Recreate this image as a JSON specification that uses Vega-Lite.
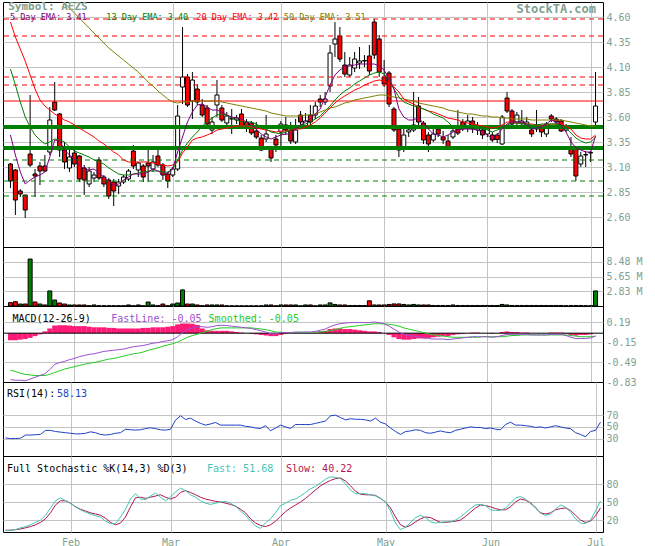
{
"$schema": "https://vega.github.io/schema/vega-lite/v6.json",
"padding": 0,
"background": "white",
"spacing": 0,
"bounds": "flush",
"config": {
 "view": {"stroke": "black", "strokeWidth": 1},
 "font": "DejaVu Sans Mono",
 "axis": {"labelFont": "DejaVu Sans Mono", "labelFontSize": 10, "labelColor": "#7fa08f", "gridColor": "#c4c4c4", "gridWidth": 1, "domain": false, "ticks": false, "labelOverlap": false, "minExtent": 0, "tickCount": 30}
},
"datasets": {
"lv": [
{"p":4.58,"k":"rd"},{"p":4.41,"k":"rd"},{"p":4.00,"k":"rd"},{"p":3.92,"k":"rd"},{"p":3.76,"k":"rs"},
{"p":3.50,"k":"g"},{"p":3.29,"k":"g"},{"p":3.17,"k":"gd"},{"p":2.96,"k":"gd"},{"p":2.81,"k":"gd"}
],
"d": [
{"i":0,"o":3.13,"h":3.14,"l":2.89,"c":2.96,"v":0.64,"u":0,"e5":3.42,"e13":4.08,"e20":4.55,"e50":5.30,"mf":-0.79,"ms":-0.63,"mh":-0.12,"r":31,"kf":2,"ks":3},
{"i":1,"o":3.07,"h":3.08,"l":2.62,"c":2.77,"v":0.83,"u":0,"e5":3.22,"e13":3.92,"e20":4.40,"e50":5.25,"mf":-0.80,"ms":-0.65,"mh":-0.12,"r":30,"kf":3,"ks":3},
{"i":2,"o":2.86,"h":2.88,"l":2.80,"c":2.83,"v":0.38,"u":1,"e5":3.05,"e13":3.75,"e20":4.28,"e50":5.20,"mf":-0.80,"ms":-0.68,"mh":-0.11,"r":30,"kf":4,"ks":4},
{"i":3,"o":2.82,"h":2.82,"l":2.59,"c":2.67,"v":0.38,"u":0,"e5":2.93,"e13":3.60,"e20":4.16,"e50":5.15,"mf":-0.81,"ms":-0.70,"mh":-0.10,"r":30.5,"kf":7,"ks":5},
{"i":4,"o":3.23,"h":3.82,"l":3.10,"c":3.12,"v":9.05,"u":1,"e5":2.97,"e13":3.50,"e20":4.02,"e50":5.10,"mf":-0.78,"ms":-0.71,"mh":-0.08,"r":36,"kf":9,"ks":7},
{"i":5,"o":3.03,"h":3.08,"l":2.80,"c":3.01,"v":0.77,"u":0,"e5":3.00,"e13":3.42,"e20":3.88,"e50":5.05,"mf":-0.75,"ms":-0.72,"mh":-0.05,"r":36,"kf":12,"ks":9},
{"i":6,"o":3.11,"h":3.15,"l":2.92,"c":3.06,"v":0.38,"u":1,"e5":3.02,"e13":3.37,"e20":3.77,"e50":5.00,"mf":-0.72,"ms":-0.72,"mh":-0.02,"r":36.5,"kf":16,"ks":12},
{"i":7,"o":3.11,"h":3.22,"l":3.05,"c":3.06,"v":0.2,"u":0,"e5":3.05,"e13":3.33,"e20":3.71,"e50":4.94,"mf":-0.69,"ms":-0.72,"mh":0.03,"r":37,"kf":20,"ks":16},
{"i":8,"o":3.25,"h":3.70,"l":3.22,"c":3.57,"v":2.9,"u":1,"e5":3.20,"e13":3.35,"e20":3.67,"e50":4.89,"mf":-0.62,"ms":-0.70,"mh":0.08,"r":44,"kf":28,"ks":22},
{"i":9,"o":3.75,"h":3.95,"l":3.66,"c":3.67,"v":1.15,"u":1,"e5":3.37,"e13":3.38,"e20":3.63,"e50":4.84,"mf":-0.53,"ms":-0.67,"mh":0.13,"r":44,"kf":40,"ks":32},
{"i":10,"o":3.63,"h":3.64,"l":3.20,"c":3.27,"v":0.58,"u":0,"e5":3.36,"e13":3.37,"e20":3.60,"e50":4.79,"mf":-0.50,"ms":-0.64,"mh":0.135,"r":42,"kf":52,"ks":45},
{"i":11,"o":3.27,"h":3.35,"l":3.08,"c":3.15,"v":0.38,"u":0,"e5":3.27,"e13":3.35,"e20":3.57,"e50":4.74,"mf":-0.48,"ms":-0.61,"mh":0.135,"r":41,"kf":57,"ks":52},
{"i":12,"o":3.09,"h":3.30,"l":3.05,"c":3.20,"v":0.2,"u":1,"e5":3.22,"e13":3.30,"e20":3.55,"e50":4.69,"mf":-0.45,"ms":-0.59,"mh":0.13,"r":40,"kf":52,"ks":52},
{"i":13,"o":3.24,"h":3.30,"l":3.10,"c":3.13,"v":0.2,"u":0,"e5":3.18,"e13":3.26,"e20":3.52,"e50":4.64,"mf":-0.43,"ms":-0.57,"mh":0.12,"r":39,"kf":48,"ks":48},
{"i":14,"o":3.21,"h":3.22,"l":2.95,"c":2.98,"v":0.2,"u":0,"e5":3.12,"e13":3.24,"e20":3.49,"e50":4.59,"mf":-0.40,"ms":-0.55,"mh":0.12,"r":38,"kf":42,"ks":42},
{"i":15,"o":3.09,"h":3.12,"l":2.82,"c":2.97,"v":0.2,"u":0,"e5":3.08,"e13":3.22,"e20":3.46,"e50":4.54,"mf":-0.38,"ms":-0.53,"mh":0.12,"r":38,"kf":37,"ks":38},
{"i":16,"o":2.93,"h":3.10,"l":2.90,"c":3.06,"v":0.05,"u":1,"e5":3.07,"e13":3.20,"e20":3.43,"e50":4.49,"mf":-0.36,"ms":-0.51,"mh":0.11,"r":39,"kf":33,"ks":35},
{"i":17,"o":2.99,"h":3.05,"l":2.95,"c":3.02,"v":0.2,"u":1,"e5":3.08,"e13":3.17,"e20":3.40,"e50":4.44,"mf":-0.35,"ms":-0.50,"mh":0.10,"r":41.5,"kf":30,"ks":32},
{"i":18,"o":3.17,"h":3.20,"l":2.97,"c":2.99,"v":0.05,"u":0,"e5":3.04,"e13":3.15,"e20":3.36,"e50":4.39,"mf":-0.33,"ms":-0.48,"mh":0.10,"r":40,"kf":27,"ks":30},
{"i":19,"o":3.00,"h":3.02,"l":2.90,"c":2.93,"v":0.05,"u":0,"e5":3.00,"e13":3.13,"e20":3.33,"e50":4.34,"mf":-0.31,"ms":-0.46,"mh":0.10,"r":37,"kf":25,"ks":28},
{"i":20,"o":2.97,"h":2.99,"l":2.78,"c":2.81,"v":0.05,"u":0,"e5":2.95,"e13":3.09,"e20":3.29,"e50":4.29,"mf":-0.30,"ms":-0.44,"mh":0.09,"r":36,"kf":18,"ks":23},
{"i":21,"o":2.95,"h":2.98,"l":2.71,"c":2.86,"v":0.05,"u":1,"e5":2.92,"e13":3.06,"e20":3.25,"e50":4.25,"mf":-0.29,"ms":-0.43,"mh":0.09,"r":37,"kf":14,"ks":16},
{"i":22,"o":2.91,"h":2.98,"l":2.83,"c":2.95,"v":0.05,"u":1,"e5":2.93,"e13":3.03,"e20":3.22,"e50":4.21,"mf":-0.28,"ms":-0.41,"mh":0.08,"r":39,"kf":14,"ks":12},
{"i":23,"o":2.95,"h":3.02,"l":2.93,"c":3.00,"v":0.05,"u":1,"e5":2.97,"e13":3.02,"e20":3.17,"e50":4.17,"mf":-0.27,"ms":-0.39,"mh":0.08,"r":40,"kf":25,"ks":15},
{"i":24,"o":2.98,"h":3.08,"l":2.96,"c":3.06,"v":0.2,"u":1,"e5":3.00,"e13":3.02,"e20":3.15,"e50":4.13,"mf":-0.25,"ms":-0.37,"mh":0.08,"r":46,"kf":38,"ks":25},
{"i":25,"o":3.26,"h":3.32,"l":3.08,"c":3.11,"v":0.05,"u":1,"e5":3.03,"e13":3.03,"e20":3.15,"e50":4.09,"mf":-0.23,"ms":-0.35,"mh":0.08,"r":45,"kf":55,"ks":42},
{"i":26,"o":3.07,"h":3.15,"l":3.00,"c":3.14,"v":0.2,"u":1,"e5":3.03,"e13":3.04,"e20":3.15,"e50":4.05,"mf":-0.22,"ms":-0.34,"mh":0.08,"r":44.5,"kf":64,"ks":57},
{"i":27,"o":3.11,"h":3.13,"l":2.95,"c":3.00,"v":0.05,"u":0,"e5":3.03,"e13":3.05,"e20":3.15,"e50":4.00,"mf":-0.21,"ms":-0.32,"mh":0.09,"r":45,"kf":55,"ks":58},
{"i":28,"o":3.14,"h":3.27,"l":2.95,"c":3.11,"v":0.77,"u":1,"e5":3.05,"e13":3.06,"e20":3.15,"e50":3.95,"mf":-0.19,"ms":-0.29,"mh":0.09,"r":47,"kf":54,"ks":56},
{"i":29,"o":3.08,"h":3.22,"l":3.05,"c":3.15,"v":0.2,"u":1,"e5":3.08,"e13":3.06,"e20":3.14,"e50":3.91,"mf":-0.17,"ms":-0.27,"mh":0.10,"r":48.4,"kf":60,"ks":58},
{"i":30,"o":3.21,"h":3.27,"l":3.10,"c":3.12,"v":0.05,"u":0,"e5":3.06,"e13":3.06,"e20":3.13,"e50":3.86,"mf":-0.16,"ms":-0.25,"mh":0.10,"r":47,"kf":65,"ks":60},
{"i":31,"o":3.12,"h":3.14,"l":2.97,"c":3.02,"v":0.38,"u":0,"e5":3.03,"e13":3.05,"e20":3.12,"e50":3.82,"mf":-0.14,"ms":-0.22,"mh":0.10,"r":45,"kf":58,"ks":62},
{"i":32,"o":3.03,"h":3.05,"l":2.89,"c":2.96,"v":0.05,"u":0,"e5":3.04,"e13":3.05,"e20":3.11,"e50":3.78,"mf":-0.13,"ms":-0.20,"mh":0.11,"r":44.4,"kf":52,"ks":58},
{"i":33,"o":3.02,"h":3.10,"l":3.00,"c":3.08,"v":0.38,"u":1,"e5":3.08,"e13":3.08,"e20":3.12,"e50":3.75,"mf":-0.11,"ms":-0.18,"mh":0.12,"r":46,"kf":58,"ks":55},
{"i":34,"o":3.08,"h":3.72,"l":3.06,"c":3.61,"v":0.58,"u":1,"e5":3.25,"e13":3.17,"e20":3.15,"e50":3.74,"mf":-0.06,"ms":-0.15,"mh":0.15,"r":61.5,"kf":67,"ks":58},
{"i":35,"o":3.90,"h":4.50,"l":3.73,"c":4.00,"v":3.1,"u":1,"e5":3.40,"e13":3.27,"e20":3.24,"e50":3.75,"mf":0.01,"ms":-0.11,"mh":0.165,"r":69,"kf":73,"ks":66},
{"i":36,"o":4.00,"h":4.03,"l":3.70,"c":3.72,"v":0.38,"u":0,"e5":3.55,"e13":3.34,"e20":3.30,"e50":3.75,"mf":0.06,"ms":-0.07,"mh":0.165,"r":62.6,"kf":69,"ks":69},
{"i":37,"o":3.76,"h":4.05,"l":3.58,"c":3.97,"v":0.38,"u":1,"e5":3.65,"e13":3.40,"e20":3.37,"e50":3.76,"mf":0.09,"ms":-0.04,"mh":0.16,"r":65,"kf":62,"ks":66},
{"i":38,"o":3.88,"h":3.93,"l":3.72,"c":3.75,"v":0.2,"u":0,"e5":3.72,"e13":3.45,"e20":3.39,"e50":3.76,"mf":0.11,"ms":-0.02,"mh":0.14,"r":60,"kf":58,"ks":62},
{"i":39,"o":3.72,"h":3.78,"l":3.60,"c":3.62,"v":0.05,"u":0,"e5":3.73,"e13":3.51,"e20":3.40,"e50":3.76,"mf":0.11,"ms":0.01,"mh":0.08,"r":56,"kf":52,"ks":58},
{"i":40,"o":3.69,"h":3.72,"l":3.50,"c":3.53,"v":0.2,"u":0,"e5":3.70,"e13":3.55,"e20":3.42,"e50":3.76,"mf":0.10,"ms":0.03,"mh":0.05,"r":53,"kf":48,"ks":55},
{"i":41,"o":3.47,"h":3.60,"l":3.43,"c":3.55,"v":0.2,"u":1,"e5":3.67,"e13":3.59,"e20":3.44,"e50":3.76,"mf":0.11,"ms":0.06,"mh":0.04,"r":55,"kf":46,"ks":53},
{"i":42,"o":3.72,"h":3.97,"l":3.60,"c":3.82,"v":0.2,"u":1,"e5":3.67,"e13":3.62,"e20":3.47,"e50":3.76,"mf":0.13,"ms":0.08,"mh":0.04,"r":57.5,"kf":48,"ks":51},
{"i":43,"o":3.69,"h":3.72,"l":3.55,"c":3.57,"v":0.2,"u":0,"e5":3.65,"e13":3.63,"e20":3.48,"e50":3.75,"mf":0.135,"ms":0.09,"mh":0.04,"r":53,"kf":50,"ks":50},
{"i":44,"o":3.54,"h":3.65,"l":3.50,"c":3.61,"v":0.03,"u":1,"e5":3.62,"e13":3.62,"e20":3.49,"e50":3.74,"mf":0.13,"ms":0.09,"mh":0.04,"r":53,"kf":51,"ks":48},
{"i":45,"o":3.58,"h":3.68,"l":3.43,"c":3.585,"v":0.03,"u":0,"e5":3.60,"e13":3.59,"e20":3.50,"e50":3.73,"mf":0.12,"ms":0.09,"mh":0.03,"r":53,"kf":48,"ks":46},
{"i":46,"o":3.57,"h":3.62,"l":3.53,"c":3.59,"v":0.03,"u":1,"e5":3.59,"e13":3.57,"e20":3.51,"e50":3.72,"mf":0.11,"ms":0.09,"mh":0.02,"r":53,"kf":43,"ks":43},
{"i":47,"o":3.63,"h":3.68,"l":3.49,"c":3.51,"v":0.03,"u":0,"e5":3.58,"e13":3.55,"e20":3.51,"e50":3.71,"mf":0.10,"ms":0.09,"mh":0.01,"r":53,"kf":35,"ks":38},
{"i":48,"o":3.55,"h":3.58,"l":3.45,"c":3.50,"v":0.03,"u":0,"e5":3.55,"e13":3.55,"e20":3.51,"e50":3.70,"mf":0.09,"ms":0.09,"mh":0.0,"r":51,"kf":28,"ks":32},
{"i":49,"o":3.54,"h":3.56,"l":3.42,"c":3.44,"v":0.03,"u":0,"e5":3.53,"e13":3.55,"e20":3.50,"e50":3.69,"mf":0.08,"ms":0.09,"mh":-0.01,"r":50,"kf":18,"ks":22},
{"i":50,"o":3.46,"h":3.55,"l":3.38,"c":3.40,"v":0.03,"u":0,"e5":3.48,"e13":3.53,"e20":3.49,"e50":3.68,"mf":0.06,"ms":0.08,"mh":-0.02,"r":48,"kf":10,"ks":15},
{"i":51,"o":3.39,"h":3.42,"l":3.26,"c":3.27,"v":0.03,"u":0,"e5":3.43,"e13":3.50,"e20":3.48,"e50":3.67,"mf":0.04,"ms":0.07,"mh":-0.03,"r":47.3,"kf":6,"ks":11},
{"i":52,"o":3.38,"h":3.62,"l":3.35,"c":3.43,"v":0.2,"u":1,"e5":3.40,"e13":3.48,"e20":3.47,"e50":3.66,"mf":0.02,"ms":0.06,"mh":-0.04,"r":52,"kf":15,"ks":9},
{"i":53,"o":3.28,"h":3.30,"l":3.15,"c":3.19,"v":0.2,"u":0,"e5":3.38,"e13":3.45,"e20":3.46,"e50":3.64,"mf":-0.01,"ms":0.04,"mh":-0.05,"r":43.3,"kf":22,"ks":12},
{"i":54,"o":3.38,"h":3.42,"l":3.25,"c":3.32,"v":0.03,"u":1,"e5":3.40,"e13":3.44,"e20":3.45,"e50":3.63,"mf":-0.01,"ms":0.02,"mh":-0.05,"r":48,"kf":32,"ks":18},
{"i":55,"o":3.45,"h":3.56,"l":3.30,"c":3.53,"v":0.2,"u":1,"e5":3.42,"e13":3.43,"e20":3.46,"e50":3.62,"mf":0.01,"ms":0.015,"mh":-0.03,"r":53,"kf":44,"ks":26},
{"i":56,"o":3.52,"h":3.60,"l":3.42,"c":3.47,"v":0.2,"u":0,"e5":3.43,"e13":3.45,"e20":3.46,"e50":3.61,"mf":0.01,"ms":0.01,"mh":-0.01,"r":50,"kf":48,"ks":34},
{"i":57,"o":3.47,"h":3.55,"l":3.33,"c":3.36,"v":0.2,"u":0,"e5":3.43,"e13":3.47,"e20":3.47,"e50":3.61,"mf":0.01,"ms":0.01,"mh":0.0,"r":47.3,"kf":53,"ks":40},
{"i":58,"o":3.35,"h":3.58,"l":3.33,"c":3.47,"v":0.2,"u":1,"e5":3.48,"e13":3.50,"e20":3.48,"e50":3.61,"mf":0.02,"ms":0.01,"mh":0.01,"r":54,"kf":55,"ks":45},
{"i":59,"o":3.62,"h":3.66,"l":3.48,"c":3.55,"v":0.03,"u":1,"e5":3.52,"e13":3.52,"e20":3.48,"e50":3.61,"mf":0.02,"ms":0.01,"mh":0.01,"r":54,"kf":60,"ks":50},
{"i":60,"o":3.50,"h":3.64,"l":3.48,"c":3.56,"v":0.2,"u":1,"e5":3.55,"e13":3.53,"e20":3.50,"e50":3.62,"mf":0.02,"ms":0.015,"mh":0.005,"r":54,"kf":66,"ks":56},
{"i":61,"o":3.62,"h":3.72,"l":3.50,"c":3.55,"v":0.2,"u":0,"e5":3.58,"e13":3.55,"e20":3.52,"e50":3.62,"mf":0.02,"ms":0.015,"mh":0.005,"r":54,"kf":72,"ks":63},
{"i":62,"o":3.62,"h":3.75,"l":3.58,"c":3.71,"v":0.03,"u":1,"e5":3.63,"e13":3.58,"e20":3.55,"e50":3.63,"mf":0.03,"ms":0.02,"mh":0.01,"r":56,"kf":76,"ks":70},
{"i":63,"o":3.78,"h":3.82,"l":3.70,"c":3.75,"v":0.2,"u":1,"e5":3.68,"e13":3.61,"e20":3.59,"e50":3.65,"mf":0.05,"ms":0.02,"mh":0.03,"r":58,"kf":82,"ks":77},
{"i":64,"o":3.75,"h":3.85,"l":3.72,"c":3.78,"v":0.2,"u":1,"e5":3.80,"e13":3.66,"e20":3.64,"e50":3.67,"mf":0.07,"ms":0.03,"mh":0.04,"r":60,"kf":88,"ks":82},
{"i":65,"o":3.91,"h":4.32,"l":3.85,"c":4.24,"v":0.6,"u":1,"e5":3.92,"e13":3.71,"e20":3.69,"e50":3.69,"mf":0.11,"ms":0.04,"mh":0.07,"r":69,"kf":92,"ks":86},
{"i":66,"o":4.33,"h":4.55,"l":4.20,"c":4.38,"v":0.3,"u":1,"e5":4.02,"e13":3.77,"e20":3.74,"e50":3.70,"mf":0.14,"ms":0.06,"mh":0.08,"r":70,"kf":91,"ks":89},
{"i":67,"o":4.41,"h":4.50,"l":4.15,"c":4.18,"v":0.2,"u":0,"e5":4.07,"e13":3.82,"e20":3.78,"e50":3.72,"mf":0.16,"ms":0.08,"mh":0.08,"r":66,"kf":89,"ks":90},
{"i":68,"o":4.12,"h":4.25,"l":4.00,"c":4.03,"v":0.2,"u":0,"e5":4.10,"e13":3.86,"e20":3.81,"e50":3.74,"mf":0.17,"ms":0.10,"mh":0.07,"r":62,"kf":80,"ks":85},
{"i":69,"o":4.02,"h":4.20,"l":4.00,"c":4.12,"v":0.1,"u":1,"e5":4.11,"e13":3.89,"e20":3.84,"e50":3.75,"mf":0.18,"ms":0.11,"mh":0.07,"r":64,"kf":70,"ks":77},
{"i":70,"o":4.09,"h":4.25,"l":4.05,"c":4.18,"v":0.1,"u":1,"e5":4.12,"e13":3.93,"e20":3.87,"e50":3.77,"mf":0.18,"ms":0.12,"mh":0.06,"r":63,"kf":64,"ks":68},
{"i":71,"o":4.14,"h":4.30,"l":4.08,"c":4.16,"v":0.1,"u":0,"e5":4.13,"e13":3.96,"e20":3.89,"e50":3.78,"mf":0.18,"ms":0.13,"mh":0.05,"r":63,"kf":64,"ks":63},
{"i":72,"o":4.16,"h":4.22,"l":4.10,"c":4.165,"v":0.1,"u":1,"e5":4.13,"e13":3.99,"e20":3.92,"e50":3.79,"mf":0.18,"ms":0.14,"mh":0.04,"r":62,"kf":64,"ks":62},
{"i":73,"o":4.21,"h":4.32,"l":4.02,"c":4.06,"v":1.0,"u":0,"e5":4.13,"e13":4.02,"e20":3.94,"e50":3.80,"mf":0.18,"ms":0.15,"mh":0.03,"r":60,"kf":62,"ks":62},
{"i":74,"o":4.55,"h":4.58,"l":4.18,"c":4.22,"v":0.2,"u":1,"e5":4.13,"e13":4.04,"e20":3.96,"e50":3.81,"mf":0.19,"ms":0.16,"mh":0.03,"r":65,"kf":60,"ks":61},
{"i":75,"o":4.38,"h":4.42,"l":4.00,"c":4.05,"v":0.2,"u":0,"e5":4.11,"e13":4.05,"e20":3.97,"e50":3.82,"mf":0.18,"ms":0.16,"mh":0.02,"r":58,"kf":56,"ks":56},
{"i":76,"o":4.00,"h":4.17,"l":3.90,"c":3.93,"v":0.2,"u":0,"e5":4.07,"e13":4.03,"e20":3.96,"e50":3.82,"mf":0.16,"ms":0.16,"mh":0.0,"r":55,"kf":50,"ks":50},
{"i":77,"o":4.04,"h":4.06,"l":3.70,"c":3.73,"v":0.3,"u":0,"e5":3.98,"e13":3.98,"e20":3.93,"e50":3.81,"mf":0.12,"ms":0.15,"mh":-0.03,"r":48,"kf":35,"ks":40},
{"i":78,"o":3.68,"h":3.70,"l":3.45,"c":3.47,"v":0.4,"u":0,"e5":3.88,"e13":3.88,"e20":3.90,"e50":3.80,"mf":0.07,"ms":0.14,"mh":-0.07,"r":42,"kf":15,"ks":25},
{"i":79,"o":3.48,"h":3.50,"l":3.20,"c":3.27,"v":0.4,"u":0,"e5":3.68,"e13":3.80,"e20":3.85,"e50":3.79,"mf":0.02,"ms":0.12,"mh":-0.10,"r":37,"kf":4,"ks":12},
{"i":80,"o":3.30,"h":3.48,"l":3.25,"c":3.42,"v":0.3,"u":1,"e5":3.60,"e13":3.75,"e20":3.78,"e50":3.78,"mf":-0.02,"ms":0.09,"mh":-0.11,"r":42,"kf":8,"ks":8},
{"i":81,"o":3.45,"h":3.50,"l":3.40,"c":3.47,"v":0.2,"u":1,"e5":3.57,"e13":3.73,"e20":3.75,"e50":3.77,"mf":-0.04,"ms":0.07,"mh":-0.11,"r":43,"kf":16,"ks":11},
{"i":82,"o":3.47,"h":3.85,"l":3.45,"c":3.52,"v":0.3,"u":1,"e5":3.57,"e13":3.71,"e20":3.73,"e50":3.76,"mf":-0.05,"ms":0.05,"mh":-0.10,"r":45,"kf":24,"ks":17},
{"i":83,"o":3.71,"h":3.80,"l":3.52,"c":3.55,"v":0.2,"u":1,"e5":3.60,"e13":3.70,"e20":3.70,"e50":3.74,"mf":-0.06,"ms":0.03,"mh":-0.09,"r":44,"kf":28,"ks":22},
{"i":84,"o":3.54,"h":3.56,"l":3.33,"c":3.37,"v":0.2,"u":0,"e5":3.53,"e13":3.68,"e20":3.68,"e50":3.73,"mf":-0.08,"ms":0.01,"mh":-0.09,"r":40,"kf":24,"ks":25},
{"i":85,"o":3.42,"h":3.45,"l":3.25,"c":3.33,"v":0.2,"u":0,"e5":3.48,"e13":3.66,"e20":3.66,"e50":3.72,"mf":-0.09,"ms":-0.01,"mh":-0.08,"r":39,"kf":17,"ks":24},
{"i":86,"o":3.37,"h":3.48,"l":3.35,"c":3.43,"v":0.1,"u":1,"e5":3.43,"e13":3.63,"e20":3.65,"e50":3.71,"mf":-0.10,"ms":-0.03,"mh":-0.07,"r":41,"kf":15,"ks":20},
{"i":87,"o":3.48,"h":3.52,"l":3.40,"c":3.43,"v":0.1,"u":0,"e5":3.42,"e13":3.61,"e20":3.63,"e50":3.70,"mf":-0.10,"ms":-0.04,"mh":-0.06,"r":43,"kf":16,"ks":16},
{"i":88,"o":3.40,"h":3.46,"l":3.33,"c":3.37,"v":0.1,"u":0,"e5":3.40,"e13":3.59,"e20":3.61,"e50":3.69,"mf":-0.10,"ms":-0.05,"mh":-0.05,"r":41,"kf":17,"ks":16},
{"i":89,"o":3.36,"h":3.42,"l":3.28,"c":3.30,"v":0.1,"u":0,"e5":3.42,"e13":3.55,"e20":3.59,"e50":3.67,"mf":-0.11,"ms":-0.06,"mh":-0.05,"r":40,"kf":17,"ks":17},
{"i":90,"o":3.40,"h":3.48,"l":3.38,"c":3.46,"v":0.2,"u":1,"e5":3.45,"e13":3.50,"e20":3.58,"e50":3.66,"mf":-0.10,"ms":-0.07,"mh":-0.03,"r":44,"kf":20,"ks":18},
{"i":91,"o":3.48,"h":3.67,"l":3.42,"c":3.44,"v":0.1,"u":0,"e5":3.47,"e13":3.49,"e20":3.57,"e50":3.65,"mf":-0.09,"ms":-0.07,"mh":-0.02,"r":46,"kf":25,"ks":20},
{"i":92,"o":3.55,"h":3.58,"l":3.46,"c":3.49,"v":0.1,"u":1,"e5":3.48,"e13":3.48,"e20":3.55,"e50":3.64,"mf":-0.08,"ms":-0.07,"mh":-0.01,"r":48,"kf":32,"ks":26},
{"i":93,"o":3.49,"h":3.62,"l":3.45,"c":3.56,"v":0.1,"u":1,"e5":3.48,"e13":3.49,"e20":3.54,"e50":3.63,"mf":-0.07,"ms":-0.07,"mh":0.0,"r":50,"kf":39,"ks":33},
{"i":94,"o":3.56,"h":3.60,"l":3.44,"c":3.48,"v":0.1,"u":0,"e5":3.48,"e13":3.50,"e20":3.53,"e50":3.63,"mf":-0.06,"ms":-0.07,"mh":0.01,"r":49,"kf":45,"ks":40},
{"i":95,"o":3.47,"h":3.55,"l":3.42,"c":3.49,"v":0.1,"u":1,"e5":3.47,"e13":3.49,"e20":3.52,"e50":3.62,"mf":-0.06,"ms":-0.07,"mh":0.01,"r":49,"kf":46,"ks":45},
{"i":96,"o":3.47,"h":3.50,"l":3.38,"c":3.42,"v":0.1,"u":0,"e5":3.45,"e13":3.48,"e20":3.51,"e50":3.61,"mf":-0.06,"ms":-0.06,"mh":0.0,"r":47,"kf":44,"ks":44},
{"i":97,"o":3.43,"h":3.52,"l":3.40,"c":3.48,"v":0.1,"u":1,"e5":3.42,"e13":3.47,"e20":3.50,"e50":3.61,"mf":-0.06,"ms":-0.06,"mh":0.0,"r":48,"kf":37,"ks":42},
{"i":98,"o":3.42,"h":3.45,"l":3.35,"c":3.37,"v":0.1,"u":0,"e5":3.38,"e13":3.45,"e20":3.49,"e50":3.60,"mf":-0.07,"ms":-0.06,"mh":-0.01,"r":46,"kf":36,"ks":39},
{"i":99,"o":3.42,"h":3.44,"l":3.34,"c":3.375,"v":0.1,"u":0,"e5":3.42,"e13":3.47,"e20":3.50,"e50":3.60,"mf":-0.06,"ms":-0.06,"mh":0.0,"r":45,"kf":36,"ks":37},
{"i":100,"o":3.33,"h":3.62,"l":3.32,"c":3.60,"v":0.3,"u":1,"e5":3.48,"e13":3.49,"e20":3.52,"e50":3.59,"mf":-0.04,"ms":-0.06,"mh":0.02,"r":54,"kf":40,"ks":37},
{"i":101,"o":3.79,"h":3.85,"l":3.64,"c":3.66,"v":0.2,"u":1,"e5":3.53,"e13":3.52,"e20":3.55,"e50":3.59,"mf":-0.02,"ms":-0.05,"mh":0.03,"r":58,"kf":48,"ks":42},
{"i":102,"o":3.66,"h":3.68,"l":3.50,"c":3.53,"v":0.1,"u":0,"e5":3.55,"e13":3.54,"e20":3.55,"e50":3.58,"mf":-0.02,"ms":-0.04,"mh":0.02,"r":53,"kf":57,"ks":50},
{"i":103,"o":3.55,"h":3.65,"l":3.52,"c":3.62,"v":0.1,"u":1,"e5":3.55,"e13":3.54,"e20":3.54,"e50":3.58,"mf":-0.02,"ms":-0.04,"mh":0.02,"r":53,"kf":59,"ks":55},
{"i":104,"o":3.54,"h":3.67,"l":3.50,"c":3.56,"v":0.1,"u":0,"e5":3.55,"e13":3.53,"e20":3.54,"e50":3.58,"mf":-0.02,"ms":-0.03,"mh":0.01,"r":52,"kf":55,"ks":53},
{"i":105,"o":3.52,"h":3.60,"l":3.48,"c":3.55,"v":0.1,"u":0,"e5":3.53,"e13":3.53,"e20":3.53,"e50":3.58,"mf":-0.02,"ms":-0.03,"mh":0.01,"r":51,"kf":47,"ks":49},
{"i":106,"o":3.47,"h":3.52,"l":3.40,"c":3.43,"v":0.1,"u":0,"e5":3.48,"e13":3.52,"e20":3.53,"e50":3.57,"mf":-0.03,"ms":-0.03,"mh":0.0,"r":49,"kf":42,"ks":40},
{"i":107,"o":3.48,"h":3.67,"l":3.45,"c":3.50,"v":0.1,"u":1,"e5":3.49,"e13":3.52,"e20":3.52,"e50":3.57,"mf":-0.03,"ms":-0.03,"mh":0.0,"r":50,"kf":31,"ks":32},
{"i":108,"o":3.49,"h":3.52,"l":3.40,"c":3.45,"v":0.1,"u":0,"e5":3.50,"e13":3.53,"e20":3.52,"e50":3.57,"mf":-0.03,"ms":-0.03,"mh":0.0,"r":48,"kf":28,"ks":30},
{"i":109,"o":3.43,"h":3.55,"l":3.40,"c":3.53,"v":0.1,"u":1,"e5":3.53,"e13":3.53,"e20":3.52,"e50":3.57,"mf":-0.03,"ms":-0.03,"mh":0.0,"r":50,"kf":30,"ks":32},
{"i":110,"o":3.61,"h":3.63,"l":3.55,"c":3.58,"v":0.1,"u":1,"e5":3.57,"e13":3.53,"e20":3.53,"e50":3.57,"mf":-0.02,"ms":-0.03,"mh":0.01,"r":52,"kf":38,"ks":37},
{"i":111,"o":3.58,"h":3.60,"l":3.50,"c":3.55,"v":0.1,"u":0,"e5":3.55,"e13":3.53,"e20":3.53,"e50":3.57,"mf":-0.02,"ms":-0.03,"mh":0.01,"r":50,"kf":45,"ks":39},
{"i":112,"o":3.56,"h":3.58,"l":3.45,"c":3.46,"v":0.1,"u":0,"e5":3.52,"e13":3.52,"e20":3.53,"e50":3.57,"mf":-0.02,"ms":-0.03,"mh":0.01,"r":48,"kf":42,"ks":40},
{"i":113,"o":3.47,"h":3.53,"l":3.45,"c":3.50,"v":0.05,"u":1,"e5":3.45,"e13":3.49,"e20":3.51,"e50":3.56,"mf":-0.04,"ms":-0.03,"mh":-0.01,"r":47,"kf":33,"ks":36},
{"i":114,"o":3.29,"h":3.40,"l":3.20,"c":3.23,"v":0.1,"u":0,"e5":3.35,"e13":3.44,"e20":3.48,"e50":3.55,"mf":-0.07,"ms":-0.04,"mh":-0.03,"r":40,"kf":22,"ks":28},
{"i":115,"o":3.28,"h":3.30,"l":2.96,"c":3.01,"v":0.1,"u":0,"e5":3.29,"e13":3.39,"e20":3.42,"e50":3.54,"mf":-0.09,"ms":-0.05,"mh":-0.04,"r":37,"kf":15,"ks":20},
{"i":116,"o":3.13,"h":3.25,"l":3.10,"c":3.21,"v":0.1,"u":1,"e5":3.27,"e13":3.36,"e20":3.39,"e50":3.53,"mf":-0.09,"ms":-0.06,"mh":-0.03,"r":33,"kf":14,"ks":16},
{"i":117,"o":3.22,"h":3.26,"l":3.10,"c":3.225,"v":0.05,"u":1,"e5":3.25,"e13":3.34,"e20":3.38,"e50":3.52,"mf":-0.09,"ms":-0.06,"mh":-0.03,"r":42,"kf":20,"ks":18},
{"i":118,"o":3.24,"h":3.26,"l":3.15,"c":3.245,"v":0.05,"u":1,"e5":3.25,"e13":3.35,"e20":3.38,"e50":3.51,"mf":-0.08,"ms":-0.06,"mh":-0.02,"r":44,"kf":35,"ks":27},
{"i":119,"o":3.55,"h":4.05,"l":3.50,"c":3.71,"v":2.9,"u":1,"e5":3.41,"e13":3.40,"e20":3.42,"e50":3.51,"mf":-0.05,"ms":-0.05,"mh":0.0,"r":58.13,"kf":51.68,"ks":40.22}
]
},
"vconcat": [
{
 "width": 600, "height": 245,
 "data": {"name": "d"},
 "layer": [
  {"mark": {"type": "rule", "color": "black", "strokeWidth": 1, "clip": true},
   "encoding": {
    "x": {"field": "i", "type": "quantitative", "title": null, "scale": {"domain": [-0.5, 119.5], "nice": false, "zero": false}, "axis": {"values": [13,33,55,76,97,118], "labels": false, "grid": true, "tickCount": 30}},
    "y": {"field": "l", "type": "quantitative", "title": null, "scale": {"domain": [2.30, 4.75], "nice": false, "zero": false}, "axis": {"orient": "right", "values": [2.60,2.85,3.10,3.35,3.60,3.85,4.10,4.35,4.60], "format": ".2f", "grid": true, "labelPadding": 3, "labelOverlap": false, "tickCount": 30}},
    "y2": {"field": "h"}}},
  {"mark": {"type": "bar", "orient": "vertical", "size": 4, "stroke": "black", "strokeWidth": 1, "clip": true},
   "encoding": {
    "x": {"field": "i", "type": "quantitative", "title": null},
    "y": {"field": "o", "type": "quantitative", "title": null},
    "y2": {"field": "c"},
    "fill": {"condition": {"test": "datum.c < datum.o", "value": "#ff0000"}, "value": "#ffffff"}}},
  {"data": {"name": "lv"}, "transform": [{"filter": "datum.k == 'rd'"}],
   "mark": {"type": "rule", "color": "#ff0000", "strokeWidth": 1, "strokeDash": [5, 4]},
   "encoding": {"y": {"field": "p", "type": "quantitative", "title": null}}},
  {"data": {"name": "lv"}, "transform": [{"filter": "datum.k == 'rs'"}],
   "mark": {"type": "rule", "color": "#ff0000", "strokeWidth": 1},
   "encoding": {"y": {"field": "p", "type": "quantitative", "title": null}}},
  {"data": {"name": "lv"}, "transform": [{"filter": "datum.k == 'g'"}],
   "mark": {"type": "rule", "color": "#008000", "strokeWidth": 4},
   "encoding": {"y": {"field": "p", "type": "quantitative", "title": null}}},
  {"data": {"name": "lv"}, "transform": [{"filter": "datum.k == 'gd'"}],
   "mark": {"type": "rule", "color": "#008000", "strokeWidth": 1, "strokeDash": [5, 4]},
   "encoding": {"y": {"field": "p", "type": "quantitative", "title": null}}},
  {"mark": {"type": "line", "color": "#808000", "strokeWidth": 1, "clip": true},
   "encoding": {"x": {"field": "i", "type": "quantitative", "title": null}, "y": {"field": "e50", "type": "quantitative", "title": null}}},
  {"mark": {"type": "line", "color": "#ff0000", "strokeWidth": 1, "clip": true},
   "encoding": {"x": {"field": "i", "type": "quantitative", "title": null}, "y": {"field": "e20", "type": "quantitative", "title": null}}},
  {"mark": {"type": "line", "color": "#008000", "strokeWidth": 1, "clip": true},
   "encoding": {"x": {"field": "i", "type": "quantitative", "title": null}, "y": {"field": "e13", "type": "quantitative", "title": null}}},
  {"mark": {"type": "line", "color": "#800080", "strokeWidth": 1, "clip": true},
   "encoding": {"x": {"field": "i", "type": "quantitative", "title": null}, "y": {"field": "e5", "type": "quantitative", "title": null}}},
  {"data": {"values": [{}]},
   "mark": {"type": "text", "text": "Symbol: AEZS", "align": "left", "baseline": "middle", "font": "DejaVu Sans Mono", "fontSize": 11, "fontWeight": "bold", "color": "#7fa08f"},
   "encoding": {"x": {"datum": -0.45}, "y": {"datum": 4.70}}},
  {"data": {"values": [{}]},
   "mark": {"type": "text", "text": "StockTA.com", "align": "right", "baseline": "middle", "font": "DejaVu Sans Mono", "fontSize": 12, "fontWeight": "bold", "color": "#7fa08f"},
   "encoding": {"x": {"datum": 119.1}, "y": {"datum": 4.68}}},
  {"data": {"values": [{}]},
   "mark": {"type": "text", "text": "5 Day EMA: 3.41", "align": "left", "baseline": "middle", "font": "DejaVu Sans Mono", "fontSize": 8.5, "color": "#800080"},
   "encoding": {"x": {"datum": -0.1}, "y": {"datum": 4.603}}},
  {"data": {"values": [{}]},
   "mark": {"type": "text", "text": "13 Day EMA: 3.40", "align": "left", "baseline": "middle", "font": "DejaVu Sans Mono", "fontSize": 8.5, "color": "#008000"},
   "encoding": {"x": {"datum": 19.5}, "y": {"datum": 4.603}}},
  {"data": {"values": [{}]},
   "mark": {"type": "text", "text": "20 Day EMA: 3.42", "align": "left", "baseline": "middle", "font": "DejaVu Sans Mono", "fontSize": 8.5, "color": "#ff0000"},
   "encoding": {"x": {"datum": 37.8}, "y": {"datum": 4.603}}},
  {"data": {"values": [{}]},
   "mark": {"type": "text", "text": "50 Day EMA: 3.51", "align": "left", "baseline": "middle", "font": "DejaVu Sans Mono", "fontSize": 8.5, "color": "#808000"},
   "encoding": {"x": {"datum": 55.6}, "y": {"datum": 4.603}}}
 ]
},
{
 "width": 600, "height": 59,
 "data": {"name": "d"},
 "layer": [
  {"mark": {"type": "bar", "orient": "vertical", "size": 4, "stroke": "black", "strokeWidth": 1},
   "encoding": {
    "x": {"field": "i", "type": "quantitative", "title": null, "scale": {"domain": [-0.5, 119.5], "nice": false, "zero": false}, "axis": {"values": [13,33,55,76,97,118], "labels": false, "grid": true, "tickCount": 30}},
    "y": {"field": "v", "type": "quantitative", "title": null, "stack": null, "scale": {"domain": [0, 11.37], "nice": false}, "axis": {"orient": "right", "values": [2.83, 5.65, 8.48], "labelExpr": "format(datum.value, '.2f') + ' M'", "grid": true, "labelPadding": 3, "labelOverlap": false, "tickCount": 30}},
    "y2": {"datum": 0},
    "fill": {"condition": {"test": "datum.u == 1", "value": "#008000"}, "value": "#ff0000"}}}
 ]
},
{
 "width": 600, "height": 76,
 "data": {"name": "d"},
 "layer": [
  {"mark": {"type": "bar", "orient": "vertical", "size": 5, "color": "#ff1a75"},
   "encoding": {
    "x": {"field": "i", "type": "quantitative", "title": null, "scale": {"domain": [-0.5, 119.5], "nice": false, "zero": false}, "axis": {"values": [13,33,55,76,97,118], "labels": false, "grid": true, "tickCount": 30}},
    "y": {"field": "mh", "type": "quantitative", "title": null, "stack": null, "scale": {"domain": [-0.83, 0.462], "nice": false, "zero": false}, "axis": {"orient": "right", "values": [0.19, -0.15, -0.49, -0.83], "labelExpr": "datum.value < 0 ? '-' + format(-datum.value, '.2f') : format(datum.value, '.2f')", "grid": true, "labelPadding": 3, "labelOverlap": false, "tickCount": 30}},
    "y2": {"datum": 0}}},
  {"data": {"values": [{}]}, "mark": {"type": "rule", "color": "black", "strokeWidth": 1},
   "encoding": {"y": {"datum": 0}}},
  {"mark": {"type": "line", "color": "#22cc22", "strokeWidth": 1},
   "encoding": {"x": {"field": "i", "type": "quantitative", "title": null}, "y": {"field": "ms", "type": "quantitative", "title": null}}},
  {"mark": {"type": "line", "color": "#9b4fcf", "strokeWidth": 1},
   "encoding": {"x": {"field": "i", "type": "quantitative", "title": null}, "y": {"field": "mf", "type": "quantitative", "title": null}}},
  {"data": {"values": [{}]},
   "mark": {"type": "text", "text": "MACD(12-26-9)", "align": "left", "baseline": "middle", "font": "DejaVu Sans Mono", "fontSize": 10, "color": "black"},
   "encoding": {"x": {"datum": 0.4}, "y": {"datum": 0.243}}},
  {"data": {"values": [{}]},
   "mark": {"type": "text", "text": "FastLine: -0.05", "align": "left", "baseline": "middle", "font": "DejaVu Sans Mono", "fontSize": 10, "color": "#9b4fcf"},
   "encoding": {"x": {"datum": 20.5}, "y": {"datum": 0.243}}},
  {"data": {"values": [{}]},
   "mark": {"type": "text", "text": "Smoothed: -0.05", "align": "left", "baseline": "middle", "font": "DejaVu Sans Mono", "fontSize": 10, "color": "#22cc22"},
   "encoding": {"x": {"datum": 40.3}, "y": {"datum": 0.243}}}
 ]
},
{
 "width": 600, "height": 74,
 "data": {"name": "d"},
 "layer": [
  {"mark": {"type": "line", "color": "#1e3fc4", "strokeWidth": 1},
   "encoding": {
    "x": {"field": "i", "type": "quantitative", "title": null, "scale": {"domain": [-0.5, 119.5], "nice": false, "zero": false}, "axis": {"values": [13,33,55,76,97,118], "labels": false, "grid": true, "tickCount": 30}},
    "y": {"field": "r", "type": "quantitative", "title": null, "scale": {"domain": [0, 127], "nice": false}, "axis": {"orient": "right", "values": [30, 50, 70], "grid": true, "labelPadding": 3, "labelOverlap": false, "tickCount": 30}}}},
  {"data": {"values": [{}]},
   "mark": {"type": "text", "text": "RSI(14):", "align": "left", "baseline": "middle", "font": "DejaVu Sans Mono", "fontSize": 10, "color": "black"},
   "encoding": {"x": {"datum": 0.3}, "y": {"datum": 106.5}}},
  {"data": {"values": [{}]},
   "mark": {"type": "text", "text": "58.13", "align": "left", "baseline": "middle", "font": "DejaVu Sans Mono", "fontSize": 10, "color": "#1e3fc4"},
   "encoding": {"x": {"datum": 10.3}, "y": {"datum": 106.5}}}
 ]
},
{
 "width": 600, "height": 76,
 "data": {"name": "d"},
 "layer": [
  {"mark": {"type": "line", "color": "#b0144f", "strokeWidth": 1},
   "encoding": {
    "x": {"field": "i", "type": "quantitative", "title": null, "scale": {"domain": [-0.5, 119.5], "nice": false, "zero": false}, "axis": {"values": [13,33,55,76,97,118], "labels": true, "grid": true, "tickCount": 30, "labelPadding": 5, "labelExpr": "['Feb','Mar','Apr','May','Jun','Jul'][indexof([13,33,55,76,97,118], datum.value)]"}},
    "y": {"field": "ks", "type": "quantitative", "title": null, "scale": {"domain": [0, 126.7], "nice": false}, "axis": {"orient": "right", "values": [20, 50, 80], "grid": true, "labelPadding": 3, "labelOverlap": false, "tickCount": 30}}}},
  {"mark": {"type": "line", "color": "#44c4b4", "strokeWidth": 1},
   "encoding": {"x": {"field": "i", "type": "quantitative", "title": null}, "y": {"field": "kf", "type": "quantitative", "title": null}}},
  {"data": {"values": [{}]},
   "mark": {"type": "text", "text": "Full Stochastic %K(14,3) %D(3)", "align": "left", "baseline": "middle", "font": "DejaVu Sans Mono", "fontSize": 10, "color": "black"},
   "encoding": {"x": {"datum": 0.3}, "y": {"datum": 105}}},
  {"data": {"values": [{}]},
   "mark": {"type": "text", "text": "Fast: 51.68", "align": "left", "baseline": "middle", "font": "DejaVu Sans Mono", "fontSize": 10, "color": "#44c4b4"},
   "encoding": {"x": {"datum": 40.3}, "y": {"datum": 105}}},
  {"data": {"values": [{}]},
   "mark": {"type": "text", "text": "Slow: 40.22", "align": "left", "baseline": "middle", "font": "DejaVu Sans Mono", "fontSize": 10, "color": "#b0144f"},
   "encoding": {"x": {"datum": 56.1}, "y": {"datum": 105}}}
 ]
}
]
}
